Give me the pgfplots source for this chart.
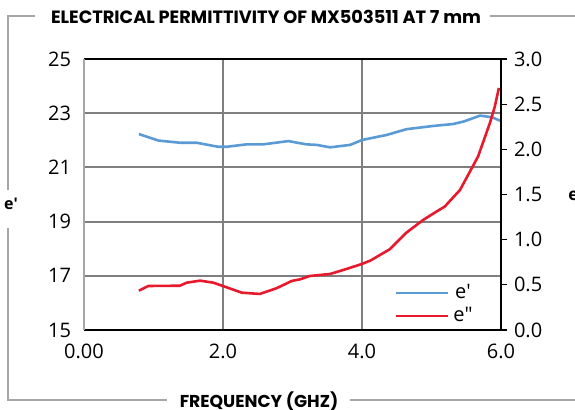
\documentclass[border=0pt]{standalone}
\usepackage{fontspec}
\usepackage{pgfplots}
\pgfplotsset{compat=1.18}
\setmainfont{Open Sans}
\newfontfamily\titlefont{Poppins}
\definecolor{eblue}{HTML}{5B9BD5}
\definecolor{ered}{HTML}{E8192C}
\definecolor{framegray}{HTML}{A6A6A6}
\definecolor{gridgray}{HTML}{7F7F7F}
\begin{document}
\begin{tikzpicture}
\path[use as bounding box] (0,0) rectangle (287.5pt,205pt);
% decorative frame, in image pixels (1px = 0.5pt, y downwards)
\begin{scope}[x=0.5pt,y=-0.5pt,shift={(0,205pt)}]
\draw[framegray,line width=0.75pt] (35,16) -- (8,16) -- (8,190);
\draw[framegray,line width=0.75pt] (8,228) -- (8,400) -- (167,400);
\draw[framegray,line width=0.75pt] (350,400) -- (580,400);
\draw[framegray,line width=0.75pt] (490,16) -- (580,16);
\node[font=\titlefont\bfseries\fontsize{8.9}{10}\selectfont] at (266,17) {ELECTRICAL PERMITTIVITY OF MX503511 AT 7 mm};
\node[font=\titlefont\bfseries\fontsize{8.6}{10}\selectfont] at (259,401) {FREQUENCY (GHZ)};
\node[font=\bfseries\fontsize{8}{10}\selectfont] at (11,204) {e′};
\node[font=\bfseries\fontsize{8.5}{10}\selectfont,anchor=west,inner sep=0pt] at (568,195) {e″};
\end{scope}
\begin{axis}[
  at={(42pt,40pt)}, anchor=south west,
  width=208.5pt, height=135.5pt, scale only axis,
  xmin=0, xmax=6, ymin=15, ymax=25,
  xtick={0,2,4,6}, xticklabels={0.00,2.0,4.0,6.0},
  ytick={15,17,...,25},
  grid=major, grid style={gridgray,line width=1pt},
  major tick length=0pt,
  axis line style={draw=none},
  tick label style={font=\fontsize{10}{12}\selectfont},
  /pgf/number format/assume math mode=true,
  xticklabel style={yshift=-3.5pt},
  yticklabel style={xshift=-3pt},
  clip=false,
]
\draw[black,line width=0.6pt] (axis cs:0,25) -- (axis cs:6,25);
\draw[black,line width=0.6pt] (axis cs:0,15) -- (axis cs:6,15);
\draw[framegray,line width=0.6pt] (axis cs:0,15) -- (axis cs:0,25);
\addplot[eblue,line width=1.3pt] coordinates {
(0.79,22.23) (1.07,21.99) (1.38,21.91) (1.62,21.91) (1.93,21.76) (2.05,21.76)
(2.34,21.85) (2.58,21.85) (2.94,21.97) (3.20,21.85) (3.35,21.83) (3.54,21.74)
(3.83,21.83) (4.00,22.01) (4.36,22.20) (4.64,22.41) (5.03,22.53) (5.31,22.60)
(5.46,22.69) (5.70,22.91) (5.87,22.85) (5.99,22.72)
};
\end{axis}
\begin{axis}[
  at={(42pt,40pt)}, anchor=south west,
  width=208.5pt, height=135.5pt, scale only axis,
  xmin=0, xmax=6, ymin=0, ymax=3,
  axis x line=none, axis y line*=right,
  ytick={0,0.5,...,3},
  yticklabel style={/pgf/number format/.cd,fixed,fixed zerofill,precision=1},
  tick label style={font=\fontsize{10}{12}\selectfont},
  /pgf/number format/assume math mode=true,
  tick align=outside, major tick length=3pt,
  axis line style={black,line width=0.6pt},
  tick style={black,line width=0.6pt},
  legend style={at={(0.73,0.2)},anchor=north west,draw=none,fill=none,
    font=\fontsize{10}{12}\selectfont,row sep=-1pt},
  legend image code/.code={\draw[#1] (0pt,0pt) -- (26pt,0pt);},
]
\addlegendimage{eblue,line width=1.3pt}
\addlegendentry{e′}
\addplot[ered,line width=1.3pt] coordinates {
(0.79,0.435) (0.925,0.487) (1.38,0.490) (1.48,0.524) (1.67,0.546) (1.86,0.524)
(2.05,0.473) (2.27,0.413) (2.53,0.399) (2.77,0.462) (2.99,0.543) (3.11,0.561)
(3.25,0.598) (3.54,0.620) (3.73,0.664) (4.00,0.731) (4.12,0.768) (4.40,0.894)
(4.64,1.078) (4.88,1.218) (5.07,1.310) (5.19,1.366) (5.41,1.550) (5.67,1.920)
(5.84,2.290) (5.91,2.470) (5.97,2.680)
};
\addlegendentry{e″}
\end{axis}
\end{tikzpicture}
\end{document}
